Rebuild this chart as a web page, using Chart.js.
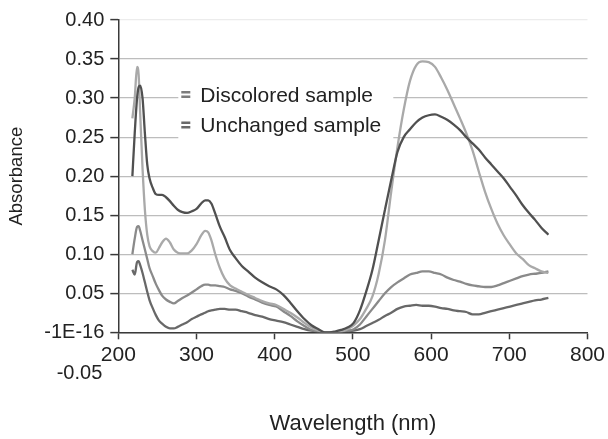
<!DOCTYPE html>
<html><head><meta charset="utf-8">
<script src="https://cdn.jsdelivr.net/npm/chart.js@4/dist/chart.umd.min.js"></script>
<style>html,body{margin:0;padding:0;background:#fff}</style>
</head><body>
<canvas id="c" width="608" height="439"></canvas>
<script>
// ---- data ----
const wavelengths = [218,221,224,226,228,231,234,237,240,244,248,252,256,261,266,271,276,282,288,294,300,306,311,315,319,324,330,336,343,350,358,366,375,384,393,402,411,420,429,438,447,456,464,470,477,485,493,501,509,517,525,533,541,549,557,565,573,581,589,597,605,613,621,629,637,645,653,661,669,677,685,693,701,709,717,725,733,741,750];
const upperDark = [0.200,0.255,0.300,0.314,0.316,0.300,0.255,0.215,0.197,0.185,0.177,0.176,0.176,0.173,0.168,0.162,0.157,0.154,0.153,0.155,0.158,0.165,0.169,0.169,0.165,0.152,0.135,0.122,0.105,0.095,0.085,0.078,0.070,0.064,0.059,0.055,0.048,0.038,0.027,0.017,0.009,0.004,0.000,0.000,0.001,0.003,0.006,0.012,0.028,0.052,0.080,0.118,0.157,0.195,0.231,0.250,0.260,0.269,0.275,0.278,0.279,0.276,0.272,0.266,0.259,0.250,0.242,0.234,0.224,0.215,0.206,0.197,0.186,0.175,0.163,0.153,0.144,0.134,0.125];
const upperLight = [0.274,0.300,0.340,0.330,0.280,0.210,0.157,0.125,0.110,0.104,0.102,0.108,0.115,0.120,0.115,0.106,0.102,0.101,0.101,0.105,0.113,0.124,0.130,0.128,0.118,0.100,0.082,0.069,0.060,0.056,0.052,0.048,0.044,0.040,0.037,0.035,0.030,0.025,0.019,0.012,0.006,0.002,0.000,0.000,0.000,0.001,0.004,0.009,0.017,0.030,0.046,0.075,0.118,0.180,0.237,0.285,0.322,0.342,0.347,0.346,0.340,0.326,0.310,0.292,0.274,0.255,0.233,0.206,0.180,0.158,0.139,0.124,0.112,0.101,0.094,0.086,0.082,0.078,0.076];
const lowerMid = [0.100,0.120,0.135,0.136,0.130,0.118,0.106,0.094,0.082,0.072,0.062,0.054,0.047,0.042,0.039,0.037,0.040,0.044,0.047,0.051,0.055,0.059,0.061,0.061,0.060,0.060,0.059,0.058,0.055,0.053,0.050,0.046,0.042,0.038,0.035,0.033,0.027,0.021,0.014,0.008,0.003,0.001,0.000,0.000,0.000,0.001,0.002,0.004,0.010,0.020,0.030,0.040,0.050,0.058,0.064,0.069,0.074,0.076,0.078,0.078,0.076,0.074,0.070,0.067,0.065,0.062,0.060,0.059,0.058,0.058,0.060,0.063,0.066,0.069,0.072,0.074,0.075,0.076,0.078];
const lowerDark = [0.080,0.074,0.090,0.091,0.086,0.076,0.064,0.052,0.041,0.031,0.022,0.015,0.011,0.007,0.005,0.005,0.007,0.010,0.013,0.017,0.020,0.023,0.025,0.027,0.028,0.029,0.030,0.030,0.029,0.029,0.027,0.025,0.022,0.020,0.017,0.015,0.013,0.010,0.007,0.004,0.002,0.001,0.000,0.000,0.000,0.000,0.001,0.002,0.004,0.008,0.012,0.016,0.021,0.025,0.030,0.033,0.034,0.035,0.034,0.034,0.033,0.031,0.030,0.028,0.027,0.026,0.023,0.023,0.025,0.027,0.029,0.031,0.033,0.035,0.037,0.039,0.041,0.042,0.044];
const seriesNames = ['Series 1','Series 2','Discolored sample','Unchanged sample'];
const legendLabels = ['Discolored sample','Unchanged sample'];
const xTitle = 'Wavelength (nm)';
const yTitle = 'Absorbance';
const extraYLabel = '-0.05';
const zeroLabel = '-1E-16';

const seriesColors = ['#505050','#a9a9a9','#8a8a8a','#686868'];
const legendColors = ['#7c7c7c','#6a6a6a'];
const FONT = '"Liberation Sans", Arial, sans-serif';

function toPoints(arr){ return wavelengths.map((w,i)=>({x:w,y:arr[i]})); }
const allSeries = [upperDark, upperLight, lowerMid, lowerDark];

const datasets = allSeries.map((arr,i)=>({
  label: seriesNames[i],
  data: toPoints(arr),
  borderColor: seriesColors[i],
  backgroundColor: seriesColors[i],
  borderWidth: 2.3,
  pointRadius: 0,
  cubicInterpolationMode: 'monotone',
  fill: false
}));

const legendPlugin = {
  id: 'boxLegend',
  beforeDatasetsDraw(chart){
    const {ctx, chartArea} = chart;
    const x0 = chartArea.left + 60, y0 = chartArea.top + 60;
    ctx.save();
    ctx.fillStyle = '#ffffff';
    ctx.fillRect(x0, y0, 215, 64);
    ctx.font = '21px ' + FONT;
    ctx.textBaseline = 'middle';
    ctx.textAlign = 'left';
    legendLabels.forEach((lab,i)=>{
      const cy = y0 + 15 + i*30.5;
      ctx.fillStyle = legendColors[i];
      ctx.fillRect(x0 + 3, cy - 4, 9, 2.5);
      ctx.fillRect(x0 + 3, cy + 0.5, 9, 2.5);
      ctx.fillStyle = '#222';
      ctx.fillText(lab, x0 + 22, cy + 1);
    });
    ctx.restore();
  }
};

const extraLabelPlugin = {
  id: 'extraLabel',
  afterDraw(chart){
    const y = chart.scales.y;
    const ctx = chart.ctx;
    const p0 = y.getPixelForValue(0), p1 = y.getPixelForValue(0.05);
    ctx.save();
    ctx.font = '20px ' + FONT;
    ctx.fillStyle = '#222';
    ctx.textAlign = 'right';
    ctx.textBaseline = 'middle';
    ctx.fillText(extraYLabel, chart.chartArea.left - 16, p0 + (p0 - p1) + 2);
    ctx.restore();
  }
};

new Chart(document.getElementById('c'), {
  type: 'line',
  data: { datasets },
  options: {
    responsive: false,
    animation: false,
    devicePixelRatio: 1,
    layout: { padding: { left: 0, top: 20, right: 19, bottom: 0 } },
    plugins: { legend: { display: false }, tooltip: { enabled: false } },
    scales: {
      x: {
        type: 'linear', min: 200, max: 800,
        afterFit(s){ s.height = 106.7; },
        ticks: { stepSize: 100, color: '#222', padding: 3, maxRotation: 0,
                 font: { family: FONT, size: 21 } },
        grid: { drawOnChartArea: false, drawTicks: true, tickLength: 7, tickColor: '#3a3a3a', tickWidth: 1.5 },
        border: { display: true, color: '#3a3a3a', width: 1.5 },
        title: { display: true, text: xTitle, color: '#222', padding: { top: 0, bottom: 2 },
                 font: { family: FONT, size: 22 } }
      },
      y: {
        min: 0, max: 0.40,
        afterFit(s){ s.width = 118.3; },
        ticks: { stepSize: 0.05, color: '#222', padding: 6,
                 font: { family: FONT, size: 20 },
                 callback: (v)=> Math.abs(v) < 1e-9 ? zeroLabel : Number(v).toFixed(2) },
        grid: { drawTicks: true, tickLength: 8, tickColor: '#3a3a3a', tickWidth: 1.5, lineWidth: 1.2,
                color: (c)=> (c.tick && c.tick.value > 0.399) ? '#ececec' : '#bdbdbd' },
        border: { display: true, color: '#3a3a3a', width: 1.5 },
        title: { display: true, text: yTitle, color: '#222', padding: { top: 6, bottom: 0 },
                 font: { family: FONT, size: 18.5 } }
      }
    }
  },
  plugins: [legendPlugin, extraLabelPlugin]
});
</script>
</body></html>
